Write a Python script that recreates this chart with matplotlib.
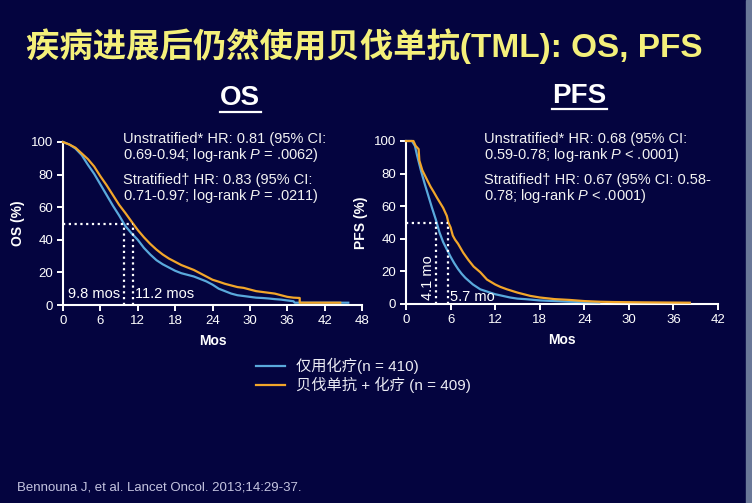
import numpy as np
import matplotlib.pyplot as plt
from matplotlib.lines import Line2D
from matplotlib.patches import Rectangle

plt.rcParams['font.family'] = ['Liberation Sans', 'Noto Sans CJK SC', 'DejaVu Sans']
plt.rcParams['mathtext.fontset'] = 'custom'
plt.rcParams['mathtext.rm'] = 'Liberation Sans'
plt.rcParams['mathtext.it'] = 'Liberation Sans:italic'

# OS curves (months, %)
os_chemo_t = [0, 1, 2, 3, 4, 5, 6, 7, 8, 9, 10, 11, 12, 13, 14, 15, 16, 17, 18, 19, 20,
              21, 22, 23, 24, 25, 26, 27, 28, 29, 30, 31, 32, 33, 34, 35, 36, 37, 37.2, 45.8]
os_chemo_s = [100, 98.5, 96, 92, 86, 80.5, 74, 67.5, 61, 55, 48.5, 44, 40, 35, 31, 27.5, 25, 23, 21, 19.5, 18.5,
              17.5, 16, 14.5, 12.5, 10, 8.5, 7, 6, 5.5, 5, 4.5, 4.3, 4, 3.6, 3.3, 2.8, 2.3, 1.4, 1.4]
os_bev_t = [0, 1, 2, 3, 4, 5, 6, 7, 8, 9, 10, 11, 12, 13, 14, 15, 16, 17, 18, 19, 20,
            21, 22, 23, 24, 25, 26, 27, 28, 29, 30, 31, 32, 33, 34, 35, 36, 37, 38, 38, 44.5]
os_bev_s = [100, 98.5, 96.5, 93, 89.5, 85, 79, 73.5, 67.5, 61.5, 56.5, 51.2, 46, 41.5, 37.5, 34, 31, 28.5, 26.5, 24.5, 23,
            21.5, 19.5, 17.5, 15.5, 14.3, 13, 12, 11, 10.5, 9.5, 8.5, 8, 7.5, 7, 6, 5, 4.5, 4.3, 1.4, 1.4]

# PFS curves (months, %)
pfs_chemo_t = [0, 0.8, 1.2, 1.5, 2, 2.5, 3, 3.5, 4, 4.5, 5, 5.5, 6, 6.5, 7, 7.5, 8, 9, 10,
               11, 12, 13, 14, 15, 16, 18, 20, 22, 24, 26]
pfs_chemo_s = [100, 100, 97, 91, 82, 74, 66.5, 59, 52, 44, 38, 33.5, 29, 25, 21.5, 18.5, 16, 12, 9,
               7.5, 6, 5, 4, 3.3, 3, 2.2, 1.8, 1.4, 1.2, 1.0]
pfs_bev_t = [0, 1.0, 1.3, 1.7, 1.8, 2.2, 2.8, 3.3, 3.7, 4.2, 4.6, 5, 5.5, 5.7, 6, 6.3, 6.6, 7, 7.7, 8.4,
             9.1, 10, 10.9, 12, 12.7, 13.6, 15, 16.7, 18, 20, 22, 24, 26, 28, 32, 38.2]
pfs_bev_s = [100, 100, 97, 95, 88, 82, 76.5, 72, 69, 65, 62, 59, 54, 50, 47, 42, 39.5, 37, 31.5, 27,
             23, 19.5, 15, 12, 10.5, 9, 7, 5, 4, 3, 2.5, 1.8, 1.4, 1.2, 1.0, 0.8]

os_medians = [9.8, 11.2]
pfs_medians = [4.1, 5.7]

labels = ['仅用化疗(n = 410)', '贝伐单抗 + 化疗 (n = 409)']
os_notes = ['Unstratified* HR: 0.81 (95% CI:',
            '0.69-0.94; log-rank $\\it{P}$ = .0062)',
            'Stratified† HR: 0.83 (95% CI:',
            '0.71-0.97; log-rank $\\it{P}$ = .0211)']
pfs_notes = ['Unstratified* HR: 0.68 (95% CI:',
             '0.59-0.78; log-rank $\\it{P}$ < .0001)',
             'Stratified† HR: 0.67 (95% CI: 0.58-',
             '0.78; log-rank $\\it{P}$ < .0001)']

bg = '#04043f'
blue = '#5aa9dc'
orange = '#f2a62a'
W, H = 752, 503


def px(x, y):
    return x / W, 1 - y / H


fig = plt.figure(figsize=(7.52, 5.03), dpi=100, facecolor=bg)
fig.patches.append(Rectangle((746 / W, 0), 6 / W, 1, transform=fig.transFigure,
                             color='#6a7898', zorder=0))


def style(ax, xmax, ylabel):
    ax.set_facecolor('none')
    for s in ['top', 'right']:
        ax.spines[s].set_visible(False)
    for s in ['left', 'bottom']:
        ax.spines[s].set_color('white')
        ax.spines[s].set_linewidth(1.5)
    ax.set_xlim(0, xmax)
    ax.set_ylim(0, 100)
    ax.set_xticks(np.arange(0, xmax + 1, 6))
    ax.set_yticks(np.arange(0, 101, 20))
    ax.tick_params(colors='white', direction='out', length=4, width=1.4,
                   labelsize=9.5, pad=3)
    ax.set_xlabel('Mos', color='white', fontweight='bold', fontsize=10, labelpad=5)
    ax.set_ylabel(ylabel, color='white', fontweight='bold', fontsize=10, labelpad=4)


dot = dict(color='white', lw=1.6, ls=(0, (1, 1.6)), zorder=4)

# OS panel
ax1 = fig.add_axes([63 / W, 1 - 305 / H, 299 / W, 163 / H])
style(ax1, 48, 'OS (%)')
l1, = ax1.plot(os_chemo_t, os_chemo_s, color=blue, lw=1.6, clip_on=False, zorder=3)
l2, = ax1.plot(os_bev_t, os_bev_s, color=orange, lw=1.6, clip_on=False, zorder=3)
ax1.plot([0, max(os_medians)], [50, 50], **dot)
for m in os_medians:
    ax1.plot([m, m], [0, 50], **dot)
ax1.text(0.75, 7, '9.8 mos', color='white', fontsize=10.5, va='center', ha='left')
ax1.text(11.5, 7, '11.2 mos', color='white', fontsize=10.5, va='center', ha='left')

# PFS panel
ax2 = fig.add_axes([406 / W, 1 - 304 / H, 312 / W, 163 / H])
style(ax2, 42, 'PFS (%)')
ax2.plot(pfs_chemo_t, pfs_chemo_s, color=blue, lw=1.6, clip_on=False, zorder=3)
ax2.plot(pfs_bev_t, pfs_bev_s, color=orange, lw=1.6, clip_on=False, zorder=3)
ax2.plot([0, max(pfs_medians)], [50, 50], **dot)
for m in pfs_medians:
    ax2.plot([m, m], [0, 50], **dot)
ax2.text(2.9, 16, '4.1 mo', color='white', fontsize=10.5, va='center', ha='center',
         rotation=90)
ax2.text(5.95, 4.5, '5.7 mo', color='white', fontsize=10.5, va='center', ha='left')

# notes
for x0, notes in [(123, os_notes), (484, pfs_notes)]:
    for y0, s in zip([143, 159, 184, 200], notes):
        fig.text(*px(x0, y0), s, color='#f2f2f2', fontsize=10.5, va='baseline', ha='left')

# panel headers
for cx, cy, uy, s in [(240, 98, 112, 'OS'), (579.5, 96, 109, 'PFS')]:
    t = fig.text(*px(cx, cy), s, color='white', fontsize=20, fontweight='bold',
                 ha='center', va='center')
    half = 20.5 if s == 'OS' else 27.5
    fig.add_artist(Line2D([(cx - half) / W, (cx + half) / W], [1 - uy / H] * 2,
                          color='white', lw=1.6))

# title
fig.text(*px(26, 46), '疾病进展后仍然使用贝伐单抗(TML): OS, PFS', color='#f4f07a',
         fontsize=24, fontweight='bold', ha='left', va='center')

# legend
fig.legend(handles=[l1, l2], labels=labels, loc='upper left',
           bbox_to_anchor=px(256, 358), frameon=False, fontsize=11,
           labelcolor='#ececf4', handlelength=1.9, handletextpad=0.7,
           labelspacing=0.15, borderpad=0, borderaxespad=0)

# citation
fig.text(*px(17, 488), 'Bennouna J, et al. Lancet Oncol. 2013;14:29-37.',
         color='#c4c4e0', fontsize=9.5, ha='left', va='center')

fig.savefig('out.png', dpi=100, facecolor=bg)
